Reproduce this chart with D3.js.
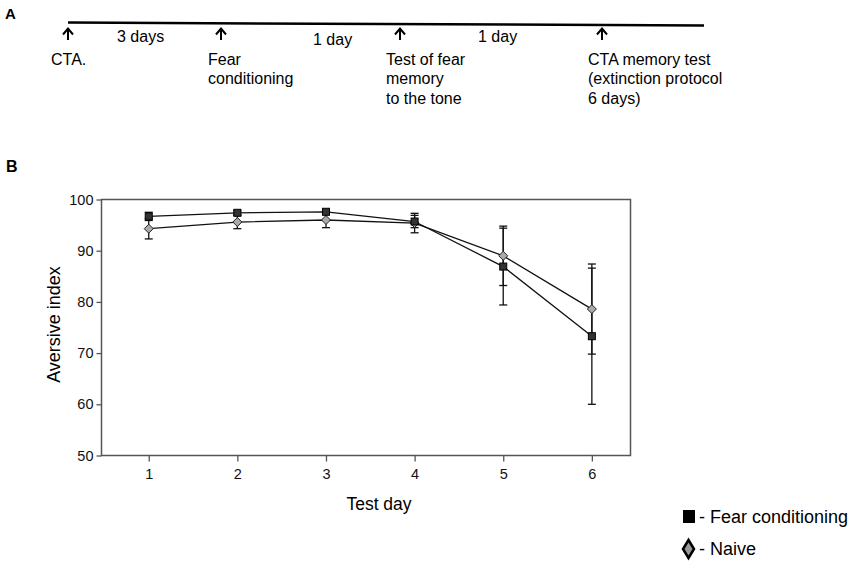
<!DOCTYPE html>
<html>
<head>
<meta charset="utf-8">
<script src="https://cdn.jsdelivr.net/npm/d3@7"></script>
<style>
  body { margin: 0; background: #fff; }
  svg { font-family: "Liberation Sans", Arial, sans-serif; }
</style>
</head>
<body>
<svg width="850" height="564"></svg>
<script>
// Panel A: timeline events
const events = [
  { label: ['CTA.'], day: 0 },
  { label: ['Fear', 'conditioning'], day: 1 },
  { label: ['Test of fear', 'memory', 'to the tone'], day: 2 },
  { label: ['CTA memory test', '(extinction protocol', '6 days)'], day: 3 }
];
const gaps = ['3 days', '1 day', '1 day'];

// Panel B: data
const testDays = [1, 2, 3, 4, 5, 6];
const fearMean = [96.7, 97.4, 97.6, 95.7, 86.9, 73.3];
const fearErr = [0.8, 0.4, 0.3, 1.2, 7.5, 13.3];
const naiveMean = [94.3, 95.6, 96.0, 95.4, 89.0, 78.6];
const naiveErr = [2.0, 1.3, 1.5, 1.9, 5.8, 8.8];
const yTicks = [50, 60, 70, 80, 90, 100];

const svg = d3.select('svg');

// ---- Panel A ----
svg.append('text').attr('x', 5).attr('y', 18.5)
  .attr('font-size', 15).attr('font-weight', 'bold').text('A');

const tx = d3.scaleOrdinal().domain([0, 1, 2, 3]).range([68, 221, 400, 602]);

svg.append('line')
  .attr('x1', 68).attr('y1', 22.5).attr('x2', 704).attr('y2', 25.5)
  .attr('stroke', '#000').attr('stroke-width', 2.5);

const ev = svg.selectAll('.event').data(events).enter()
  .append('g').attr('class', 'event')
  .attr('transform', d => `translate(${tx(d.day)},0)`);

ev.append('line').attr('x1', 0).attr('x2', 0).attr('y1', 29).attr('y2', 40)
  .attr('stroke', '#000').attr('stroke-width', 2);
ev.append('path').attr('d', 'M-5,34.5 L0,28.5 L5,34.5')
  .attr('fill', 'none').attr('stroke', '#000').attr('stroke-width', 2);

const labelDx = [-17, -13, -14, -14];
ev.append('text')
  .attr('font-size', 16)
  .each(function (d, j) {
    d3.select(this).selectAll('tspan').data(d.label).enter()
      .append('tspan')
      .attr('x', labelDx[j])
      .attr('y', (t, i) => 65 + i * 19.3)
      .text(t => t);
  });

svg.selectAll('.gap').data(gaps).enter()
  .append('text').attr('class', 'gap')
  .attr('x', (d, i) => [117, 313, 478][i])
  .attr('y', (d, i) => [42, 45, 42][i])
  .attr('font-size', 16)
  .text(d => d);

// ---- Panel B ----
svg.append('text').attr('x', 6).attr('y', 172)
  .attr('font-size', 16).attr('font-weight', 'bold').text('B');

const pLeft = 101.5, pRight = 630.5, pTop = 199.5, pBottom = 455.5;
const x = d3.scaleLinear().domain([0.467, 6.436]).range([pLeft, pRight]);
const y = d3.scaleLinear().domain([50, 100]).range([pBottom, pTop]);

const g = svg.append('g');

g.append('rect')
  .attr('x', pLeft).attr('y', pTop)
  .attr('width', pRight - pLeft).attr('height', pBottom - pTop)
  .attr('fill', 'none').attr('stroke', '#555').attr('stroke-width', 1.5);

const yAxis = g.append('g').attr('transform', `translate(${pLeft},0)`)
  .call(d3.axisLeft(y).tickValues(yTicks).tickSize(5).tickSizeOuter(0));
const xAxis = g.append('g').attr('transform', `translate(0,${pBottom})`)
  .call(d3.axisBottom(x).tickValues(testDays).tickSize(6).tickSizeOuter(0).tickFormat(d3.format('d')));

[yAxis, xAxis].forEach(a => {
  a.select('.domain').remove();
  a.selectAll('line').attr('stroke', '#555').attr('stroke-width', 1.3);
  a.selectAll('text').attr('font-family', '"Liberation Sans", Arial, sans-serif')
    .attr('font-size', 14.5).attr('fill', '#111');
});
yAxis.selectAll('text').attr('x', -8);
xAxis.selectAll('text').attr('y', 13);

g.append('text')
  .attr('transform', `translate(60,${(pTop + pBottom) / 2 - 3}) rotate(-90)`)
  .attr('text-anchor', 'middle').attr('font-size', 18).text('Aversive index');
g.append('text')
  .attr('x', (pLeft + pRight) / 2 + 13).attr('y', 510)
  .attr('text-anchor', 'middle').attr('font-size', 17.5).text('Test day');

const series = [
  { mean: naiveMean, err: naiveErr, shape: 'diamond' },
  { mean: fearMean, err: fearErr, shape: 'square' }
];

const line = d3.line().x((d, i) => x(testDays[i])).y(d => y(d));

series.forEach(s => {
  const sg = g.append('g');
  // error bars
  testDays.forEach((d, i) => {
    const cx = x(d), y1 = y(s.mean[i] + s.err[i]), y2 = y(s.mean[i] - s.err[i]);
    sg.append('line').attr('x1', cx).attr('x2', cx).attr('y1', y1).attr('y2', y2)
      .attr('stroke', '#111').attr('stroke-width', 1.3);
    [y1, y2].forEach(yy => sg.append('line')
      .attr('x1', cx - 4).attr('x2', cx + 4).attr('y1', yy).attr('y2', yy)
      .attr('stroke', '#111').attr('stroke-width', 1.3));
  });
});

series.forEach(s => {
  g.append('path').datum(s.mean).attr('d', line)
    .attr('fill', 'none').attr('stroke', '#111').attr('stroke-width', 1.3);
});

series.forEach(s => {
  const pts = g.selectAll(null).data(s.mean).enter();
  if (s.shape === 'square') {
    pts.append('rect')
      .attr('x', (d, i) => x(testDays[i]) - 3.5).attr('y', d => y(d) - 3.5)
      .attr('width', 7).attr('height', 7)
      .attr('fill', '#333').attr('stroke', '#000').attr('stroke-width', 1);
  } else {
    pts.append('path')
      .attr('transform', (d, i) => `translate(${x(testDays[i])},${y(d)})`)
      .attr('d', 'M0,-4.5 L4.5,0 L0,4.5 L-4.5,0 Z')
      .attr('fill', '#aaa').attr('stroke', '#222').attr('stroke-width', 1);
  }
});

// legend
const lg = svg.append('g').attr('font-size', 18);
lg.append('rect').attr('x', 683).attr('y', 510).attr('width', 12).attr('height', 13).attr('fill', '#000');
lg.append('text').attr('x', 699).attr('y', 523).text('- Fear conditioning');
lg.append('path').attr('d', 'M688.5,540 L694,549 L688.5,558 L683,549 Z')
  .attr('fill', '#999').attr('stroke', '#000').attr('stroke-width', 2.5);
lg.append('text').attr('x', 699).attr('y', 555).text('- Naive');
</script>
</body>
</html>
